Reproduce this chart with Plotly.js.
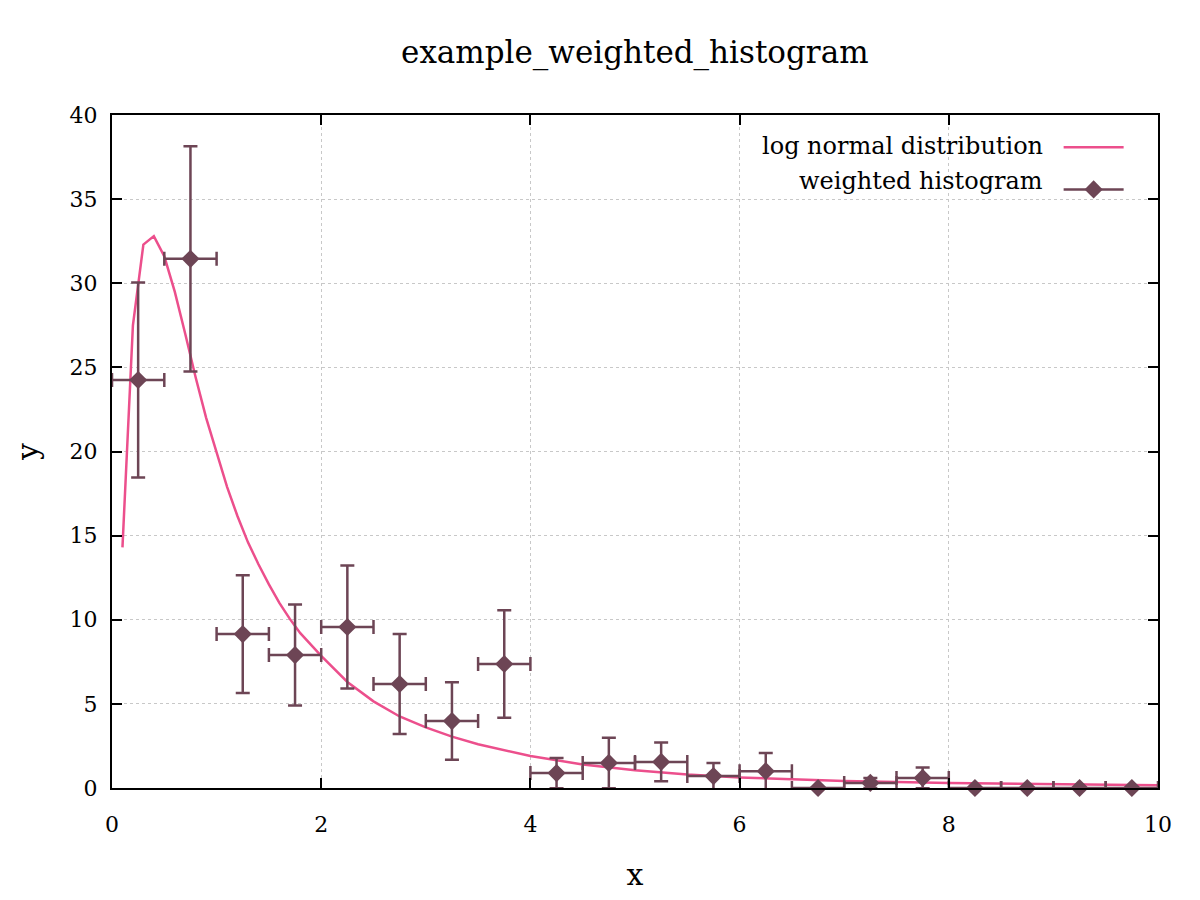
<!DOCTYPE html>
<html>
<head>
<meta charset="utf-8">
<script src="https://cdn.plot.ly/plotly-3.0.1.min.js"></script>
<style>body{margin:0;background:#fff}</style>
</head>
<body>
<div id="myDiv" style="width:1200px;height:900px"></div>
<script>
// curva log normal
var curveX = [0.1, 0.2, 0.3, 0.4, 0.5, 0.6, 0.7, 0.8, 0.9, 1.0, 1.1, 1.2, 1.3, 1.4, 1.5, 1.6, 1.7, 1.8, 1.9, 2.0,
  2.25, 2.5, 2.75, 3.0, 3.25, 3.5, 4.0, 4.5, 5.0, 5.5, 6.0, 7.0, 8.0, 9.0, 10.0];
var curveY = [14.3, 27.5, 32.3, 32.8, 31.6, 29.5, 27.0, 24.4, 22.0, 19.9, 17.9, 16.15, 14.6, 13.3, 12.1, 11.0, 10.05, 9.2, 8.5, 7.85,
  6.3, 5.15, 4.25, 3.6, 3.05, 2.6, 1.9, 1.4, 1.05, 0.8, 0.63, 0.42, 0.3, 0.22, 0.17];

// histograma ponderado
var histX = [0.25, 0.75, 1.25, 1.75, 2.25, 2.75, 3.25, 3.75, 4.25, 4.75,
  5.25, 5.75, 6.25, 6.75, 7.25, 7.75, 8.25, 8.75, 9.25, 9.75];
var histY = [24.25, 31.45, 9.15, 7.9, 9.57, 6.18, 3.98, 7.37, 0.89, 1.49,
  1.55, 0.71, 1.0, 0, 0.3, 0.6, 0, 0, 0, 0];
var histErrY = [5.8, 6.7, 3.5, 3.0, 3.65, 2.97, 2.3, 3.2, 0.9, 1.5,
  1.15, 0.78, 1.08, 0, 0.3, 0.62, 0, 0, 0, 0];
var binHalfWidth = 0.25;

var legendNames = ['log normal distribution', 'weighted histogram'];

var pink = '#ec4f8c';
var mauve = '#6d4555';
var serif = 'DejaVu Serif';

var trace1 = {
  x: curveX,
  y: curveY,
  name: ' ',
  legendgroup: 'a',
  type: 'scatter',
  mode: 'lines',
  line: { color: pink, width: 2.5 }
};

var trace2 = {
  x: histX,
  y: histY,
  showlegend: false,
  type: 'scatter',
  mode: 'markers',
  cliponaxis: false,
  marker: { symbol: 'diamond', size: 14, color: mauve },
  error_y: { type: 'data', array: histErrY, visible: true, color: mauve, thickness: 2.5, width: 7 },
  error_x: { type: 'constant', value: binHalfWidth, visible: true, color: mauve, thickness: 2.5, width: 7 }
};

// so para a legenda (linha + losango), sem pontos
var trace2Legend = {
  x: [null],
  y: [null],
  name: ' ',
  legendgroup: 'b',
  type: 'scatter',
  mode: 'lines+markers',
  line: { color: mauve, width: 2.5 },
  marker: { symbol: 'diamond', size: 14, color: mauve }
};

var data = [trace1, trace2, trace2Legend];

var axisBase = {
  showline: true,
  linecolor: '#000',
  linewidth: 2,
  mirror: 'allticks',
  ticks: 'inside',
  ticklen: 10,
  tickwidth: 2,
  tickcolor: '#000',
  showgrid: true,
  gridcolor: '#c8c8c8',
  gridwidth: 1,
  griddash: 'dot',
  zeroline: false,
  tickfont: { family: serif, size: 22, color: '#000' }
};

var layout = {
  width: 1200,
  height: 900,
  margin: { l: 112, r: 42, t: 115, b: 112 },
  paper_bgcolor: '#fff',
  plot_bgcolor: '#fff',
  title: {
    text: 'example_weighted_histogram',
    font: { family: serif, size: 31, color: '#000' },
    x: 0.529, xanchor: 'center', y: 0.942, yanchor: 'middle'
  },
  xaxis: Object.assign({}, axisBase, {
    range: [0, 10], dtick: 2,
    ticklabelstandoff: 16,
    title: { text: 'x', font: { family: serif, size: 30, color: '#000' }, standoff: 28 }
  }),
  yaxis: Object.assign({}, axisBase, {
    range: [0, 40], dtick: 5,
    ticklabelstandoff: 8,
    title: { text: 'y', font: { family: serif, size: 30, color: '#000' }, standoff: 22 }
  }),
  showlegend: true,
  legend: {
    x: 0.905, xanchor: 'left', y: 0.985, yanchor: 'top',
    bgcolor: 'rgba(0,0,0,0)',
    traceorder: 'grouped',
    tracegroupgap: 8,
    itemwidth: 60,
    font: { family: serif, size: 24, color: '#000' }
  },
  annotations: [
    { xref: 'paper', yref: 'paper', x: 0.892, y: 0.954, xanchor: 'right', yanchor: 'middle',
      text: legendNames[0], showarrow: false, font: { family: serif, size: 24, color: '#000' } },
    { xref: 'paper', yref: 'paper', x: 0.892, y: 0.902, xanchor: 'right', yanchor: 'middle',
      text: legendNames[1], showarrow: false, font: { family: serif, size: 24, color: '#000' } }
  ]
};

Plotly.newPlot('myDiv', data, layout, { displayModeBar: false });
</script>
</body>
</html>
